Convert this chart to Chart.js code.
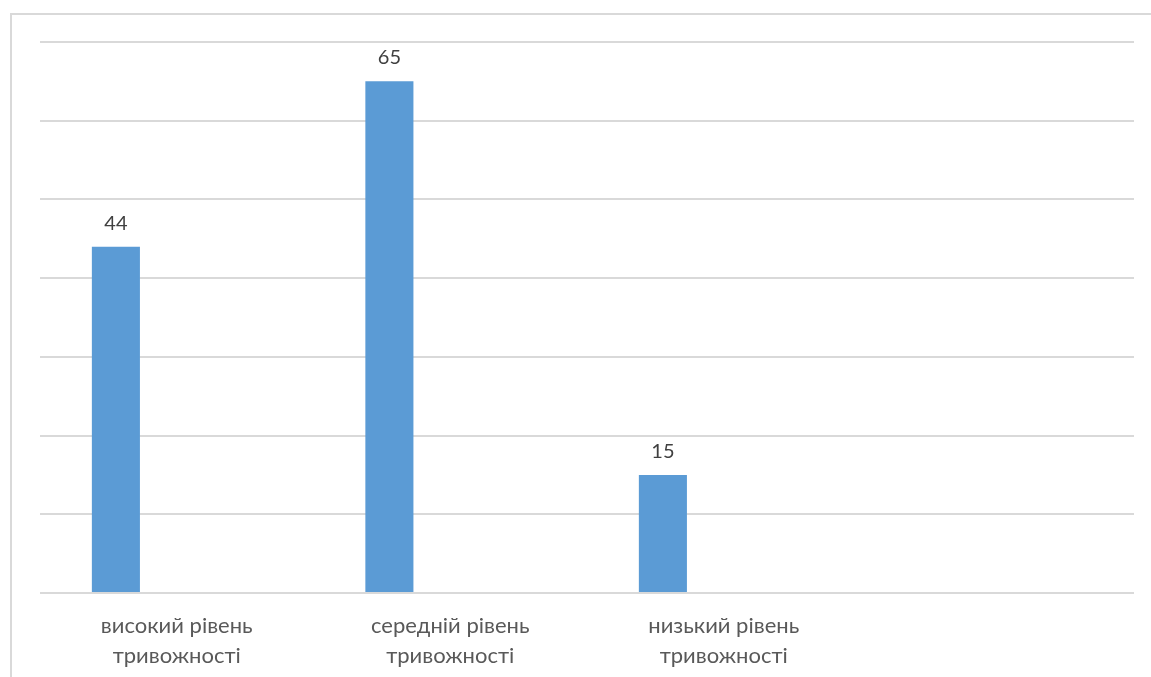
<!DOCTYPE html>
<html>
<head>
<meta charset="utf-8">
<script src="https://cdn.jsdelivr.net/npm/chart.js@4/dist/chart.umd.min.js"></script>
<style>
  html, body { margin: 0; padding: 0; background: #fff; }
  #wrap { width: 1151px; height: 677px; }
</style>
</head>
<body>
<div id="wrap"><canvas id="chart"></canvas></div>
<script>
const categories = [
  ['високий рівень', 'тривожності'],
  ['середній рівень', 'тривожності'],
  ['низький рівень', 'тривожності'],
  ''
];
const seriesValues = [44, 65, 15, null];
const emptySeries = [null, null, null, null];
const yTicks = { min: 0, max: 70, step: 10 };

// frame lines like the Excel chart border
const framePlugin = {
  id: 'frame',
  beforeDraw(chart) {
    const ctx = chart.ctx;
    ctx.save();
    ctx.strokeStyle = '#d9d9d9';
    ctx.lineWidth = 2;
    ctx.beginPath();
    ctx.moveTo(11, 677);
    ctx.lineTo(11, 14);
    ctx.lineTo(1151, 14);
    ctx.stroke();
    ctx.restore();
  }
};

// value labels above bars
const valueLabels = {
  id: 'valueLabels',
  afterDatasetsDraw(chart) {
    const ctx = chart.ctx;
    const meta = chart.getDatasetMeta(0);
    ctx.save();
    ctx.font = '20px Lato, "Open Sans", sans-serif';
    ctx.fillStyle = '#404040';
    ctx.textAlign = 'center';
    ctx.textBaseline = 'alphabetic';
    meta.data.forEach((bar, i) => {
      const v = seriesValues[i];
      if (v == null) return;
      ctx.fillText(String(v), bar.x, bar.y - 17);
    });
    ctx.restore();
  }
};

new Chart(document.getElementById('chart'), {
  type: 'bar',
  data: {
    labels: categories,
    datasets: [
      { data: seriesValues, backgroundColor: '#5b9bd5', categoryPercentage: 0.89, barPercentage: 0.395 },
      { data: emptySeries, backgroundColor: '#ed7d31', categoryPercentage: 0.89, barPercentage: 0.395 }
    ]
  },
  options: {
    responsive: true,
    maintainAspectRatio: false,
    animation: false,
    layout: { padding: { left: 40, top: 42, right: 17, bottom: 6 } },
    plugins: { legend: { display: false }, tooltip: { enabled: false } },
    scales: {
      x: {
        grid: { display: false },
        border: { display: false },
        afterFit(scale) { scale.height = 78; },
        ticks: {
          color: '#595959',
          font: { family: 'Lato, "Open Sans", sans-serif', size: 22, lineHeight: 1.35 },
          padding: 10,
          maxRotation: 0,
          autoSkip: false
        }
      },
      y: {
        min: yTicks.min,
        max: yTicks.max,
        ticks: { display: false, stepSize: yTicks.step },
        grid: { color: '#d9d9d9', lineWidth: 2, drawTicks: false },
        border: { display: false }
      }
    }
  },
  plugins: [framePlugin, valueLabels]
});
</script>
</body>
</html>
